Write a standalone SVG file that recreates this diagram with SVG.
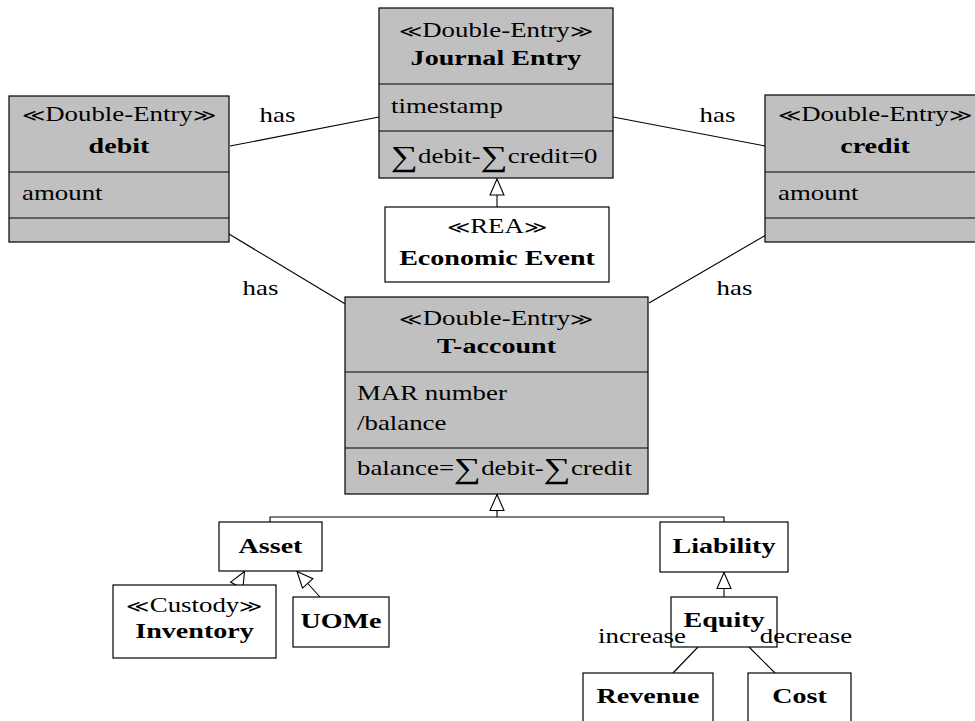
<svg xmlns="http://www.w3.org/2000/svg" width="975" height="721" viewBox="0 0 975 721">
<style>
.box{stroke:#000;stroke-width:1.2}
.g{fill:#c0c0c0}
.w{fill:#fff}
.div{stroke:#000;stroke-width:1.2}
.ln{stroke:#000;stroke-width:1.1;fill:none}
text{font-family:"Liberation Serif","DejaVu Serif",serif;font-size:20.5px;fill:#000}
.c{text-anchor:middle}
.b{font-weight:bold}
.sig{font-size:29px}
.st{font-family:"DejaVu Serif",serif;font-size:17px;font-weight:normal}
</style>
<defs>
<marker id="gen" viewBox="-1 -1 18 16" refX="16" refY="7" markerWidth="18" markerHeight="16" orient="auto" markerUnits="userSpaceOnUse">
<path d="M0,0 L16,7 L0,14 Z" fill="#fff" stroke="#000" stroke-width="1.1"/>
</marker>
</defs>
<rect width="975" height="721" fill="#fff"/>

<g id="connectors">
<line class="ln" x1="230" y1="146" x2="379" y2="117"/>
<line class="ln" x1="613" y1="117" x2="765" y2="146"/>
<line class="ln" x1="229" y1="234" x2="347" y2="305"/>
<line class="ln" x1="766" y1="235" x2="649" y2="303"/>
<line class="ln" x1="497" y1="207" x2="497" y2="179" marker-end="url(#gen)"/>
<polyline class="ln" points="270,522 270,517 724,517 724,522"/>
<line class="ln" x1="497" y1="517" x2="497" y2="494.5" marker-end="url(#gen)"/>
<line class="ln" x1="237" y1="585" x2="244.5" y2="571.5" marker-end="url(#gen)"/>
<line class="ln" x1="320" y1="597" x2="297" y2="571.5" marker-end="url(#gen)"/>
<line class="ln" x1="724" y1="597" x2="724" y2="572.5" marker-end="url(#gen)"/>
<line class="ln" x1="698" y1="647" x2="673" y2="673"/>
<line class="ln" x1="749" y1="647" x2="775" y2="673"/>
<text transform="translate(277.5,122) scale(1.31,1)" class="c">has</text>
<text transform="translate(717.5,122) scale(1.31,1)" class="c">has</text>
<text transform="translate(260.5,295) scale(1.31,1)" class="c">has</text>
<text transform="translate(734.5,295) scale(1.31,1)" class="c">has</text>
</g>

<g id="journal-entry">
<rect class="box g" x="379" y="8" width="234" height="170"/>
<line class="div" x1="379" y1="84" x2="613" y2="84"/>
<line class="div" x1="379" y1="131" x2="613" y2="131"/>
<text transform="translate(496,37) scale(1.31,1)" class="c"><tspan class="st">≪</tspan>Double-Entry<tspan class="st">≫</tspan></text>
<text transform="translate(496,65) scale(1.37,1)" class="c b">Journal Entry</text>
<text transform="translate(391,113) scale(1.31,1)">timestamp</text>
<text transform="translate(391,163) scale(1.31,1)"><tspan class="sig" dy="3">∑</tspan><tspan dy="-3">debit-</tspan><tspan class="sig" dy="3">∑</tspan><tspan dy="-3">credit=0</tspan></text>
</g>

<g id="economic-event">
<rect class="box w" x="385" y="207" width="224" height="75"/>
<text transform="translate(497,233) scale(1.31,1)" class="c"><tspan class="st">≪</tspan>REA<tspan class="st">≫</tspan></text>
<text transform="translate(497,265) scale(1.37,1)" class="c b">Economic Event</text>
</g>

<g id="debit">
<rect class="box g" x="9" y="96" width="220" height="146"/>
<line class="div" x1="9" y1="172" x2="229" y2="172"/>
<line class="div" x1="9" y1="218" x2="229" y2="218"/>
<text transform="translate(119,121) scale(1.31,1)" class="c"><tspan class="st">≪</tspan>Double-Entry<tspan class="st">≫</tspan></text>
<text transform="translate(119,153) scale(1.37,1)" class="c b">debit</text>
<text transform="translate(22,200) scale(1.31,1)">amount</text>
</g>

<g id="credit">
<rect class="box g" x="765" y="95" width="220" height="147"/>
<line class="div" x1="765" y1="172" x2="985" y2="172"/>
<line class="div" x1="765" y1="218" x2="985" y2="218"/>
<text transform="translate(875,121) scale(1.31,1)" class="c"><tspan class="st">≪</tspan>Double-Entry<tspan class="st">≫</tspan></text>
<text transform="translate(875,153) scale(1.37,1)" class="c b">credit</text>
<text transform="translate(778,200) scale(1.31,1)">amount</text>
</g>

<g id="t-account">
<rect class="box g" x="345" y="297" width="303" height="197"/>
<line class="div" x1="345" y1="372" x2="648" y2="372"/>
<line class="div" x1="345" y1="448" x2="648" y2="448"/>
<text transform="translate(496.5,325) scale(1.31,1)" class="c"><tspan class="st">≪</tspan>Double-Entry<tspan class="st">≫</tspan></text>
<text transform="translate(496.5,353) scale(1.37,1)" class="c b">T-account</text>
<text transform="translate(357,400) scale(1.31,1)">MAR number</text>
<text transform="translate(357,430) scale(1.31,1)">/balance</text>
<text transform="translate(357,475) scale(1.31,1)">balance=<tspan class="sig" dy="3">∑</tspan><tspan dy="-3">debit-</tspan><tspan class="sig" dy="3">∑</tspan><tspan dy="-3">credit</tspan></text>
</g>

<g id="asset">
<rect class="box w" x="219" y="522" width="103" height="49"/>
<text transform="translate(270.5,553) scale(1.37,1)" class="c b">Asset</text>
</g>

<g id="inventory">
<rect class="box w" x="113" y="585" width="163" height="73"/>
<text transform="translate(194.5,612) scale(1.31,1)" class="c"><tspan class="st">≪</tspan>Custody<tspan class="st">≫</tspan></text>
<text transform="translate(194.5,638) scale(1.37,1)" class="c b">Inventory</text>
</g>

<g id="uome">
<rect class="box w" x="293" y="597" width="96" height="50"/>
<text transform="translate(341,628) scale(1.37,1)" class="c b">UOMe</text>
</g>

<g id="liability">
<rect class="box w" x="660" y="522" width="128" height="50"/>
<text transform="translate(724,553) scale(1.37,1)" class="c b">Liability</text>
</g>

<g id="equity">
<rect class="box w" x="671" y="597" width="106" height="50"/>
<text transform="translate(724,627) scale(1.37,1)" class="c b">Equity</text>
</g>

<g id="revenue">
<rect class="box w" x="583" y="673" width="130" height="60"/>
<text transform="translate(648,703) scale(1.37,1)" class="c b">Revenue</text>
</g>

<g id="cost">
<rect class="box w" x="748" y="673" width="103" height="60"/>
<text transform="translate(799.5,703) scale(1.37,1)" class="c b">Cost</text>
</g>

<g id="equity-labels">
<text transform="translate(642,643) scale(1.31,1)" class="c">increase</text>
<text transform="translate(806,643) scale(1.31,1)" class="c">decrease</text>
</g>
</svg>
